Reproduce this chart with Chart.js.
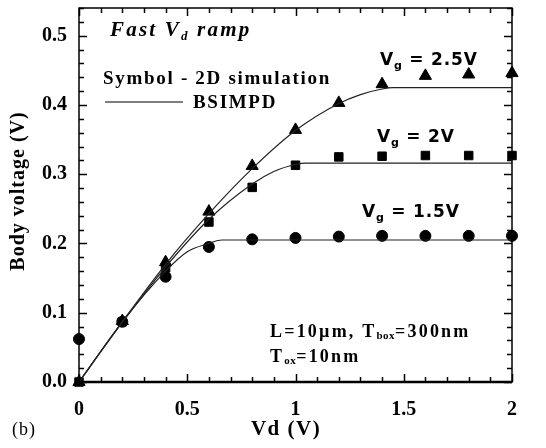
<!DOCTYPE html>
<html><head><meta charset="utf-8">
<script src="https://cdn.jsdelivr.net/npm/chart.js@4/dist/chart.umd.min.js"></script>
<style>html,body{margin:0;padding:0;background:#fff}#wrap{width:546px;height:448px}</style>
</head><body><div id="wrap"><canvas id="c" width="546" height="448"></canvas></div>
<script>
// Simulation (symbols)
const vdSim = [0, 0.2, 0.4, 0.6, 0.8, 1.0, 1.2, 1.4, 1.6, 1.8, 2.0];
const sim25 = [0, 0.088, 0.173, 0.246, 0.312, 0.364, 0.403, 0.430, 0.442, 0.444, 0.446];
const sim20 = [0, 0.087, 0.165, 0.231, 0.281, 0.313, 0.325, 0.326, 0.327, 0.327, 0.327];
const sim15 = [0.062, 0.087, 0.152, 0.195, 0.206, 0.208, 0.210, 0.211, 0.211, 0.211, 0.211];
// BSIMPD model (lines)
const vdModel25 = [0, 0.2, 0.4, 0.6, 0.8, 1.0, 1.2, 1.3, 1.4, 1.45, 1.6, 2.0];
const model25   = [0, 0.087, 0.170, 0.243, 0.308, 0.363, 0.402, 0.415, 0.423, 0.425, 0.425, 0.425];
const vdModel20 = [0, 0.2, 0.4, 0.6, 0.8, 0.9, 1.0, 1.05, 2.0];
const model20   = [0, 0.086, 0.166, 0.235, 0.286, 0.304, 0.314, 0.316, 0.316];
const vdModel15 = [0, 0.2, 0.4, 0.5, 0.6, 0.66, 2.0];
const model15   = [0, 0.087, 0.160, 0.188, 0.200, 0.205, 0.205];
const xTickLabels = ["0", "0.5", "1", "1.5", "2"];
const yTickLabels = ["0.0", "0.1", "0.2", "0.3", "0.4", "0.5"];
const xMinorStep = 0.1;
const yMinorStep = 0.02;

const pts = (xs, ys) => xs.map((x, i) => ({x, y: ys[i]}));
const serif = "'Liberation Serif', 'Times New Roman', serif";
const sans = "'DejaVu Sans', 'Liberation Sans', Arial, sans-serif";

function lineDs(xs, ys) {
  return {data: pts(xs, ys), showLine: true, borderColor: '#222', borderWidth: 1.2,
    pointRadius: 0, cubicInterpolationMode: 'monotone', clip: false};
}
function symDs(xs, ys, style, r) {
  return {data: pts(xs, ys), showLine: false, pointStyle: style, pointRadius: r,
    backgroundColor: '#000', borderColor: '#000', borderWidth: 1, clip: false};
}

const decor = {
  id: 'decor',
  afterDatasetsDraw(chart) {
    const ctx = chart.ctx, a = chart.chartArea;
    const sx = chart.scales.x, sy = chart.scales.y;
    ctx.save();
    ctx.strokeStyle = '#000';
    // inward ticks
    ctx.lineWidth = 1.5;
    ctx.beginPath();
    for (let i = 0; i <= 20; i++) {
      const px = Math.round(sx.getPixelForValue(i * xMinorStep)) + 0.5;
      const L = (i % 5 === 0) ? 8 : 5;
      ctx.moveTo(px, a.bottom); ctx.lineTo(px, a.bottom - L);
      ctx.moveTo(px, a.top); ctx.lineTo(px, a.top + L);
    }
    for (let i = 0; i <= 27; i++) {
      const py = Math.round(sy.getPixelForValue(i * yMinorStep)) + 0.5;
      const L = (i % 5 === 0) ? 8 : 5;
      ctx.moveTo(a.left, py); ctx.lineTo(a.left + L, py);
      ctx.moveTo(a.right, py); ctx.lineTo(a.right - L, py);
    }
    ctx.stroke();
    // frame
    ctx.lineWidth = 1.5;
    ctx.strokeRect(a.left, a.top, a.right - a.left, a.bottom - a.top);
    ctx.lineWidth = 2.5;
    ctx.beginPath(); ctx.moveTo(a.left, a.bottom); ctx.lineTo(a.right, a.bottom); ctx.stroke();

    ctx.fillStyle = '#000';
    ctx.textBaseline = 'alphabetic';
    ctx.textAlign = 'left';
    // Fast Vd ramp
    ctx.letterSpacing = '2.2px';
    ctx.font = `italic bold 21px ${serif}`;
    let t = 'Fast V';
    ctx.fillText(t, 110, 36);
    let w = ctx.measureText(t).width;
    ctx.font = `italic bold 13px ${serif}`;
    ctx.fillText('d', 110 + w, 40);
    let w2 = ctx.measureText('d').width;
    ctx.font = `italic bold 21px ${serif}`;
    ctx.fillText(' ramp', 110 + w + w2, 36);
    // legend
    ctx.font = `bold 19px ${serif}`;
    ctx.letterSpacing = '1.7px';
    ctx.fillText('Symbol - 2D simulation', 103, 84);
    ctx.fillText('BSIMPD', 193, 108);
    ctx.lineWidth = 1.2;
    ctx.beginPath(); ctx.moveTo(105, 102); ctx.lineTo(183, 102); ctx.stroke();
    // Vg labels
    function vg(txt, x0, y0) {
      ctx.letterSpacing = '0.8px';
      ctx.font = `bold 17px ${sans}`;
      ctx.fillText('V', x0, y0);
      const wv = ctx.measureText('V').width;
      ctx.font = `bold 11px ${sans}`;
      ctx.fillText('g', x0 + wv, y0 + 4);
      const wg = ctx.measureText('g').width;
      ctx.font = `bold 17px ${sans}`;
      ctx.fillText(' = ' + txt, x0 + wv + wg, y0);
    }
    vg('2.5V', 380, 65);
    vg('2V', 377, 142);
    vg('1.5V', 362, 217);
    // device params
    ctx.letterSpacing = '2.2px';
    ctx.font = `bold 18px ${serif}`;
    let xx = 270;
    ctx.fillText('L=10\u00b5m, T', xx, 337);
    xx += ctx.measureText('L=10\u00b5m, T').width;
    ctx.font = `bold 11px ${serif}`;
    ctx.letterSpacing = '0.5px';
    ctx.fillText('box', xx, 339);
    xx += ctx.measureText('box').width;
    ctx.letterSpacing = '2.2px';
    ctx.font = `bold 18px ${serif}`;
    ctx.fillText('=300nm', xx, 337);
    xx = 270;
    ctx.fillText('T', xx, 362);
    xx += ctx.measureText('T').width;
    ctx.font = `bold 11px ${serif}`;
    ctx.letterSpacing = '0.5px';
    ctx.fillText('ox', xx, 364);
    xx += ctx.measureText('ox').width;
    ctx.letterSpacing = '2.2px';
    ctx.font = `bold 18px ${serif}`;
    ctx.fillText('=10nm', xx, 362);
    // axis titles
    ctx.letterSpacing = '1px';
    ctx.font = `18px ${serif}`;
    ctx.fillText('(b)', 12, 435);
    ctx.letterSpacing = '1.5px';
    ctx.font = `bold 21px ${serif}`;
    ctx.textAlign = 'center';
    ctx.fillText('Vd (V)', 286, 435);
    ctx.letterSpacing = '1px';
    ctx.font = `bold 20px ${serif}`;
    ctx.save();
    ctx.translate(24, 191);
    ctx.rotate(-Math.PI / 2);
    ctx.fillText('Body voltage (V)', 0, 0);
    ctx.restore();
    ctx.restore();
  }
};

new Chart(document.getElementById('c'), {
  type: 'scatter',
  data: {datasets: [
    lineDs(vdModel25, model25), lineDs(vdModel20, model20), lineDs(vdModel15, model15),
    symDs(vdSim, sim25, 'triangle', 7), symDs(vdSim, sim20, 'rect', 6), symDs(vdSim, sim15, 'circle', 5.5)
  ]},
  options: {
    responsive: false, animation: false, devicePixelRatio: 1,
    layout: {padding: {top: 6, right: 34, bottom: 6, left: 0}},
    plugins: {legend: {display: false}, tooltip: {enabled: false}},
    scales: {
      x: {type: 'linear', min: 0, max: 2,
        grid: {display: false}, border: {display: false},
        afterFit(s) { s.height = 60; s.paddingLeft = 0; s.paddingRight = 0; },
        afterBuildTicks(s) { s.ticks = xTickLabels.map(l => ({value: parseFloat(l)})); },
        ticks: {color: '#000', padding: 8, font: {family: serif, weight: 'bold', size: 20},
          callback: (v, i) => xTickLabels[i]}},
      y: {type: 'linear', min: 0, max: 0.54,
        grid: {display: false}, border: {display: false},
        afterFit(s) { s.width = 79; s.paddingTop = 0; s.paddingBottom = 0; },
        afterBuildTicks(s) { s.ticks = yTickLabels.map(l => ({value: parseFloat(l)})); },
        ticks: {color: '#000', padding: 4, font: {family: serif, weight: 'bold', size: 20},
          callback: (v, i) => yTickLabels[i]}}
    }
  },
  plugins: [decor]
});
</script></body></html>
